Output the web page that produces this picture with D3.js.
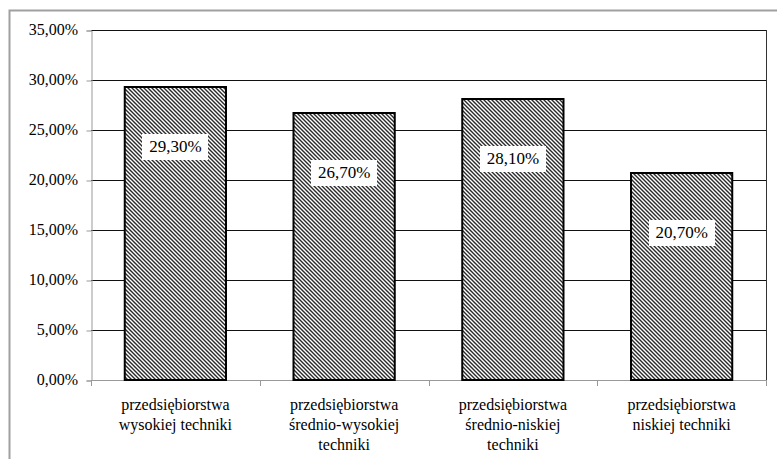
<!DOCTYPE html>
<html>
<head>
<meta charset="utf-8">
<script src="https://cdn.jsdelivr.net/npm/d3@7"></script>
<style>
  html, body { margin: 0; padding: 0; background: #fff; }
  #wrap { position: relative; width: 777px; height: 459px; overflow: hidden; }
  #wrap svg { position: absolute; left: 0; top: 0; display: block; }
  #labels { position: absolute; left: 0; top: 0; width: 777px; height: 459px; }
  .lab { position: absolute; font-family: 'Liberation Serif', 'Times New Roman', serif; color: #000; white-space: nowrap; }
  .ytick { font-size: 16px; line-height: 20px; text-align: right; width: 70px; }
  .val { font-size: 17px; line-height: 26px; text-align: center; width: 66px; height: 26px; background: #fff; }
  .cat { font-size: 16px; line-height: 20px; text-align: center; }
</style>
</head>
<body>
<div id="wrap">
  <svg id="chart" width="777" height="459"></svg>
  <div id="labels"></div>
</div>
<script>
// Udział przedsiębiorstw według poziomu techniki
const categories = [
  ["przedsiębiorstwa", "wysokiej techniki"],
  ["przedsiębiorstwa", "średnio-wysokiej", "techniki"],
  ["przedsiębiorstwa", "średnio-niskiej", "techniki"],
  ["przedsiębiorstwa", "niskiej techniki"]
];
const values = [29.3, 26.7, 28.1, 20.7];
const yTicks = [0, 5, 10, 15, 20, 25, 30, 35];

const fmt = v => v.toFixed(2).replace(".", ",") + "%";
const W = 777, H = 459;
const plot = { left: 91, right: 766, top: 30, bottom: 380 };

const svg = d3.select("#chart");
const labels = d3.select("#labels");

// outer frame of the chart area
svg.append("path")
  .attr("d", `M9.5,${H + 2} L9.5,10.5 L${W + 2},10.5`)
  .attr("fill", "none")
  .attr("stroke", "#a0a0a0")
  .attr("stroke-width", 2);

// diagonal hatch fill
const pat = svg.append("defs").append("pattern")
  .attr("id", "hatch")
  .attr("patternUnits", "userSpaceOnUse")
  .attr("width", 4).attr("height", 4);
pat.append("rect").attr("width", 4).attr("height", 4).attr("fill", "#ffffff");
pat.append("path")
  .attr("d", "M-1,-1 L5,5 M-1,3 L1,5 M3,-1 L5,1")
  .attr("stroke", "#2a2a2a")
  .attr("stroke-width", 1.4);

const x = d3.scaleBand()
  .domain(d3.range(categories.length))
  .range([plot.left, plot.right])
  .paddingInner(0.4)
  .paddingOuter(0.2);

const y = d3.scaleLinear()
  .domain([0, 35])
  .range([plot.bottom, plot.top]);

// horizontal gridlines
svg.append("g")
  .selectAll("line")
  .data(yTicks.filter(t => t > 0))
  .join("line")
  .attr("x1", plot.left).attr("x2", plot.right)
  .attr("y1", d => Math.round(y(d)) + 0.5).attr("y2", d => Math.round(y(d)) + 0.5)
  .attr("stroke", "#111").attr("stroke-width", 1);

// right border of plot area
svg.append("line")
  .attr("x1", plot.right + 0.5).attr("x2", plot.right + 0.5)
  .attr("y1", plot.top).attr("y2", plot.bottom)
  .attr("stroke", "#333").attr("stroke-width", 1);

// y axis line and ticks (labels are set as HTML below)
const gy = svg.append("g")
  .attr("transform", `translate(${plot.left + 0.5},0.5)`)
  .call(d3.axisLeft(y).tickValues(yTicks).tickFormat("").tickSize(5));
gy.select(".domain").attr("stroke", "#999");
gy.selectAll(".tick line").attr("stroke", "#999");
gy.selectAll(".tick text").remove();

labels.selectAll(".ytick")
  .data(yTicks)
  .join("div")
  .attr("class", "lab ytick")
  .style("left", "8px")
  .style("top", d => (y(d) - 10) + "px")
  .text(fmt);

// x axis with ticks at category boundaries
const bounds = d3.range(categories.length + 1)
  .map(i => plot.left + i * (plot.right - plot.left) / categories.length);
svg.append("line")
  .attr("x1", plot.left).attr("x2", plot.right)
  .attr("y1", plot.bottom + 0.5).attr("y2", plot.bottom + 0.5)
  .attr("stroke", "#999");
svg.append("g")
  .selectAll("line")
  .data(bounds)
  .join("line")
  .attr("x1", d => Math.round(d) + 0.5).attr("x2", d => Math.round(d) + 0.5)
  .attr("y1", plot.bottom).attr("y2", plot.bottom + 6)
  .attr("stroke", "#999");

// bars
svg.append("g")
  .selectAll("rect")
  .data(values)
  .join("rect")
  .attr("x", (d, i) => x(i))
  .attr("y", d => y(d))
  .attr("width", x.bandwidth())
  .attr("height", d => plot.bottom - y(d))
  .attr("fill", "url(#hatch)")
  .attr("stroke", "#000")
  .attr("stroke-width", 2);

// value labels on white boxes
labels.selectAll(".val")
  .data(values)
  .join("div")
  .attr("class", "lab val")
  .style("left", (d, i) => (x(i) + x.bandwidth() / 2 - 33) + "px")
  .style("top", d => (y(d) + 60 - 13) + "px")
  .text(fmt);

// category labels
const bandW = (plot.right - plot.left) / categories.length;
const cat = labels.selectAll(".cat")
  .data(categories)
  .join("div")
  .attr("class", "lab cat")
  .style("left", (d, i) => (x(i) + x.bandwidth() / 2 - bandW / 2) + "px")
  .style("width", bandW + "px")
  .style("top", "395px");
cat.selectAll("div")
  .data(d => d)
  .join("div")
  .text(d => d);
</script>
</body>
</html>
